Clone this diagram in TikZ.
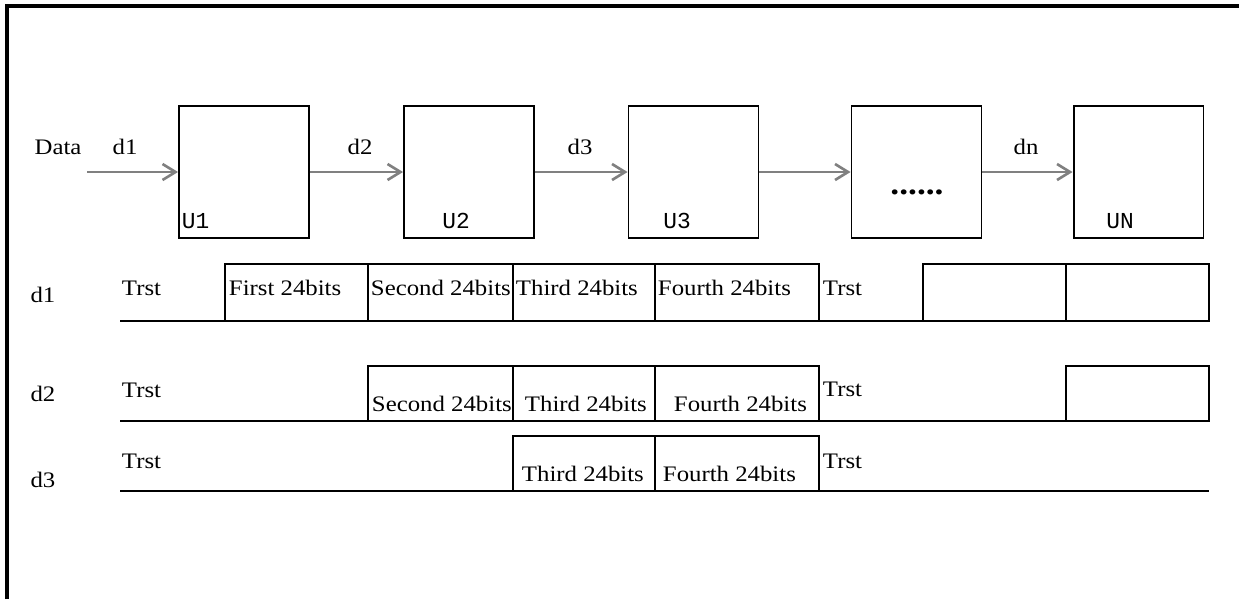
\documentclass[tikz,border=0pt]{standalone}
\usepackage{fontspec}
\setmainfont{Liberation Serif}[FakeStretch=1.12]
\setmonofont{Liberation Mono}
\usetikzlibrary{arrows.meta}

\begin{document}
\begin{tikzpicture}[x = 0.02cm, y = -0.02cm, line width = 1.1pt,
                    every node/.style = {font = \fontsize{12.6}{14}\selectfont, inner sep = 0pt},
                    unit/.style = {rectangle, draw, minimum width = 2.6cm, minimum height = 2.64cm},
                    tag/.style = {font = \ttfamily\fontsize{13}{15}\selectfont},
                    flow/.style = {draw = gray, line width = 1.5pt,
                                   -{Straight Barb[length = 2.6mm, width = 3.2mm]}}]

\useasboundingbox (0,0) rectangle (1239,599);
\draw[line width = 2pt] (7,599) -- (7,6) -- (1239,6);

% units
\node [unit] (U1) at (244,172) {};
\node [unit] (U2) at (469,172) {};
\node [unit] (U3) at (693.5,172) {};
\node [unit] (Ux) at (916.5,172) {};
\node [unit] (UN) at (1138.5,172) {};

\node [tag, anchor = west] (tU1) at (181,221) {U1};
\node [tag] (tU2) at (456,221) {U2};
\node [tag] (tU3) at (677,221) {U3};
\node [tag] (tUN) at (1120,221) {UN};
\node [font = \fontsize{18}{20}\bfseries, anchor = base] (tUx) at (917,194) {......};

% data path
\coordinate (in) at (87,172);
\draw [flow] (in) -- (U1.west);
\draw [flow] (U1.east) -- (U2.west);
\draw [flow] (U2.east) -- (U3.west);
\draw [flow] (U3.east) -- (Ux.west);
\draw [flow] (Ux.east) -- (UN.west);

\node (data) at (58,147) {Data};
\node (in1) at (125,147) {d1};
\node (in2) at (360,147) {d2};
\node (in3) at (580,147) {d3};
\node (inN) at (1026,147) {dn};

% d1 row
\node (row1) at (43,295) {d1};
\draw (120,321) -- (1209,321);
\draw (225,321) rectangle (819,264);
\draw (368,264) -- (368,321);
\draw (513,264) -- (513,321);
\draw (655,264) -- (655,321);
\draw (923,321) rectangle (1209,264);
\draw (1066,264) -- (1066,321);
\node [anchor = west] (a0) at (121,288) {Trst};
\node [anchor = west] (a1) at (228,288) {First 24bits};
\node [anchor = west] (a2) at (370,288) {Second 24bits};
\node [anchor = west] (a3) at (515,288) {Third 24bits};
\node [anchor = west] (a4) at (657,288) {Fourth 24bits};
\node [anchor = west] (a5) at (822,288) {Trst};

% d2 row
\node (row2) at (43,394) {d2};
\draw (120,421) -- (1209,421);
\draw (368,421) rectangle (819,366);
\draw (513,366) -- (513,421);
\draw (655,366) -- (655,421);
\draw (1066,421) rectangle (1209,366);
\node [anchor = west] (b0) at (121,390) {Trst};
\node [anchor = west] (b2) at (371,404) {Second 24bits};
\node [anchor = west] (b3) at (524,404) {Third 24bits};
\node [anchor = west] (b4) at (673,404) {Fourth 24bits};
\node [anchor = west] (b5) at (822,389) {Trst};

% d3 row
\node (row3) at (43,480) {d3};
\draw (120,491) -- (1209,491);
\draw (513,491) rectangle (819,436);
\draw (655,436) -- (655,491);
\node [anchor = west] (c0) at (121,461) {Trst};
\node [anchor = west] (c3) at (521,474) {Third 24bits};
\node [anchor = west] (c4) at (662,474) {Fourth 24bits};
\node [anchor = west] (c5) at (822,461) {Trst};

\end{tikzpicture}
\end{document}
